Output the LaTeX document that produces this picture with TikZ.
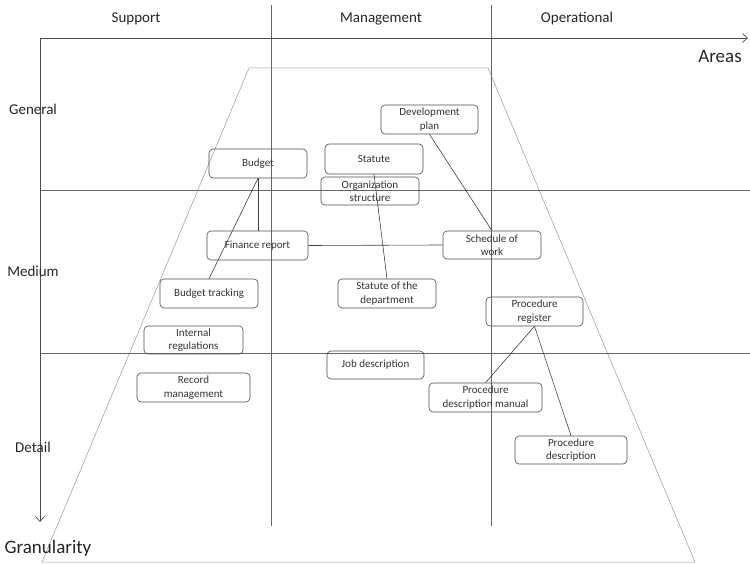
\documentclass[tikz,border=0pt]{standalone}
\usepackage{fontspec}
\setmainfont{Carlito}
\usetikzlibrary{arrows.meta}
\tikzset{
  box/.style={draw=black!70, line width=0.6pt, rounded corners=4pt, inner sep=0pt,
    align=center, text=black!80, font=\fontsize{11}{13.5}\selectfont},
  conn/.style={draw=black!75, line width=0.6pt},
  axis/.style={draw=black!70, line width=0.7pt},
  grid/.style={draw=black!60, line width=0.7pt},
  trap/.style={draw=black!40, line width=0.5pt},
  lab/.style={text=black!85, font=\fontsize{15}{18}\selectfont, inner sep=0pt},
  biglab/.style={text=black!85, font=\fontsize{19}{22}\selectfont, inner sep=0pt},
  tip/.style={-{Straight Barb[length=5pt,width=9pt]}}
}
\begin{document}
\begin{tikzpicture}[x=1pt,y=-1pt]
\useasboundingbox (0,0) rectangle (750,564);
% trapezoid
\draw[trap] (249,68) -- (488,68) -- (695,562) -- (42,562) -- cycle;
% grid lines
\coordinate (c1t) at (271,5); \coordinate (c1b) at (271,526);
\coordinate (c2t) at (491,5); \coordinate (c2b) at (491,526);
\coordinate (r1l) at (40,190); \coordinate (r1r) at (750,190);
\coordinate (r2l) at (40,353); \coordinate (r2r) at (750,353);
\draw[grid] (c1t) -- (c1b);
\draw[grid] (c2t) -- (c2b);
\draw[grid] (r1l) -- (r1r);
\draw[grid] (r2l) -- (r2r);
% axes
\coordinate (o) at (40,38);
\coordinate (xe) at (748,38);
\coordinate (ye) at (40,522);
\draw[axis,tip] (o) -- (xe);
\draw[axis,tip] (o) -- (ye);
% labels
\node[lab] (sup) at (136,19) {Support};
\node[lab] (man) at (381,19) {Management};
\node[lab] (ope) at (577,19) {Operational};
\node[biglab] (areas) at (720,56) {Areas};
\node[lab] (gen) at (33,109) {General};
\node[lab] (med) at (33,271) {Medium};
\node[lab] (det) at (33,447) {Detail};
\node[biglab] (gran) at (48,548) {Granularity};
% boxes
\node[box, minimum width=97pt, minimum height=29pt] (devplan) at (429.5,119.5) {Development\\plan};
\node[box, minimum width=98pt, minimum height=29pt] (budget) at (258,163.5) {Budget};
\node[box, minimum width=98pt, minimum height=30pt] (statute) at (374,159) {Statute};
\node[box, minimum width=98pt, minimum height=28pt] (org) at (370,191) {Organization\\structure};
\node[box, minimum width=101pt, minimum height=29pt] (finance) at (257.5,245.5) {Finance report};
\node[box, minimum width=98pt, minimum height=28pt] (sched) at (492,245) {Schedule of\\work};
\node[box, minimum width=98pt, minimum height=29pt] (budtrack) at (209,293.5) {Budget tracking};
\node[box, minimum width=98pt, minimum height=29pt] (statdept) at (387,293.5) {Statute of the\\department};
\node[box, minimum width=97pt, minimum height=29pt] (procreg) at (534.5,311.5) {Procedure\\register};
\node[box, minimum width=99pt, minimum height=28pt] (internal) at (193.5,340) {Internal\\regulations};
\node[box, minimum width=113pt, minimum height=29pt] (record) at (193.5,387.5) {Record\\management};
\node[box, minimum width=97pt, minimum height=28pt] (jobdesc) at (375.5,365) {Job description};
\node[box, minimum width=113pt, minimum height=29pt] (procman) at (485.5,397.5) {Procedure\\description manual};
\node[box, minimum width=112pt, minimum height=28pt] (procdesc) at (571,450) {Procedure\\description};
% connectors
\draw[conn] (budget.south) -- (budget.south |- finance.north);
\draw[conn] (budget.south) -- (budtrack.north);
\draw[conn] (statute.south) -- (statdept.north);
\draw[conn] (finance.east) -- (sched.west);
\draw[conn] (devplan.south) -- (sched.north);
\draw[conn] (procreg.south) -- (procman.north);
\draw[conn] (procreg.south) -- (procdesc.north);
\end{tikzpicture}
\end{document}
